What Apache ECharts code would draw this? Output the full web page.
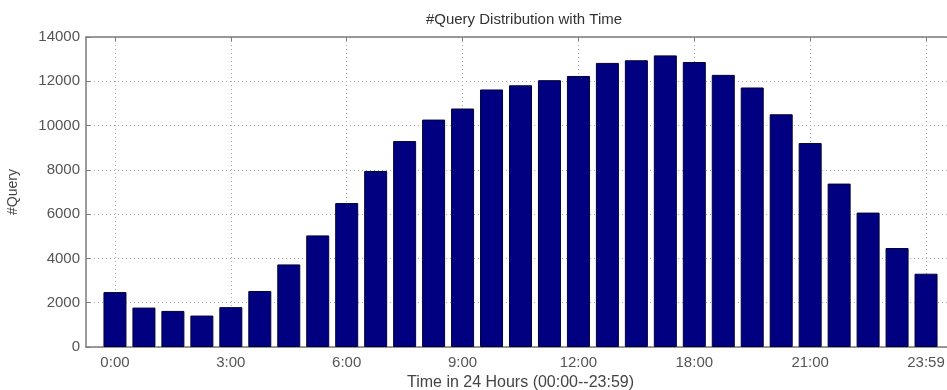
<!DOCTYPE html>
<html>
<head>
<meta charset="utf-8">
<script src="https://cdn.jsdelivr.net/npm/echarts@6/dist/echarts.min.js"></script>
<style>
html,body{margin:0;padding:0;background:#fff;}
#chart{width:947px;height:390px;}
</style>
</head>
<body>
<div id="chart"></div>
<script>
// Query counts per time slot (29 bars)
const queries = [2480, 1780, 1630, 1420, 1800, 2530, 3730, 5040, 6500, 7950, 9300, 10270, 10770, 11630, 11820, 12050, 12240, 12830, 12950, 13170, 12870, 12290, 11720, 10510, 9210, 7380, 6070, 4470, 3310];
// Tick labels, one every 4 bars starting at the first bar
const tickLabels = ['0:00', '3:00', '6:00', '9:00', '12:00', '18:00', '21:00', '23:59'];
const yTicks = [0, 2000, 4000, 6000, 8000, 10000, 12000, 14000];
const titleText = '#Query Distribution with Time';
const xName = 'Time in 24 Hours (00:00--23:59)';
const yName = '#Query';

// category slots: one empty slot before and after the bars
const slots = ['pad0'].concat(queries.map((_, i) => 'bar' + i)).concat(['pad1']);
const seriesData = [null].concat(queries).concat([null]);

const isTick = (idx) => idx >= 1 && idx <= queries.length && (idx - 1) % 4 === 0;

const font = 'Liberation Sans, Arial, sans-serif';
const axisColor = '#7a7a7a';

const chart = echarts.init(document.getElementById('chart'), null, {renderer: 'canvas'});
chart.setOption({
  animation: false,
  backgroundColor: '#fff',
  title: {
    text: titleText,
    left: 519,
    top: 7,
    textAlign: 'center',
    textStyle: {fontFamily: font, fontSize: 15, fontWeight: 'normal', color: '#333'}
  },
  grid: {left: 86, right: -8, top: 37, bottom: 43, containLabel: false, outerBoundsMode: 'none'},
  xAxis: [{
    type: 'category',
    data: slots,
    boundaryGap: false,
    position: 'bottom',
    name: xName,
    nameLocation: 'middle',
    nameGap: 27,
    nameTextStyle: {fontFamily: font, fontSize: 16, color: '#444'},
    axisLine: {show: true, lineStyle: {color: axisColor, width: 1.5}},
    axisTick: {show: true, inside: true, length: 4, interval: (i) => isTick(i), lineStyle: {color: axisColor}},
    axisLabel: {
      interval: (i) => isTick(i),
      formatter: (v, i) => isTick(i) ? tickLabels[(i - 1) / 4] : '',
      margin: 8,
      fontFamily: font, fontSize: 15, color: '#555'
    },
    splitLine: {show: true, interval: (i) => isTick(i), lineStyle: {color: '#aaa', type: [1, 3], width: 1}}
  }, {
    type: 'category',
    data: slots,
    boundaryGap: false,
    position: 'top',
    axisLine: {show: true, lineStyle: {color: axisColor, width: 1.5}},
    axisTick: {show: true, inside: true, length: 4, interval: (i) => isTick(i), lineStyle: {color: axisColor}},
    axisLabel: {show: false},
    splitLine: {show: false}
  }],
  yAxis: {
    type: 'value',
    min: yTicks[0],
    max: yTicks[yTicks.length - 1],
    interval: yTicks[1] - yTicks[0],
    name: yName,
    nameLocation: 'middle',
    nameGap: 66,
    nameTextStyle: {fontFamily: font, fontSize: 14, color: '#444'},
    axisLine: {show: true, lineStyle: {color: axisColor, width: 1.5}},
    axisTick: {show: true, inside: true, length: 4, lineStyle: {color: axisColor}},
    axisLabel: {margin: 6, fontFamily: font, fontSize: 15, color: '#555', formatter: (v) => String(v)},
    splitLine: {show: true, lineStyle: {color: '#aaa', type: [1, 3], width: 1}}
  },
  series: [{
    type: 'bar',
    data: seriesData,
    barWidth: 23,
    itemStyle: {color: '#000080', borderColor: '#00003a', borderWidth: 1, borderRadius: 0}
  }]
});
</script>
</body>
</html>
